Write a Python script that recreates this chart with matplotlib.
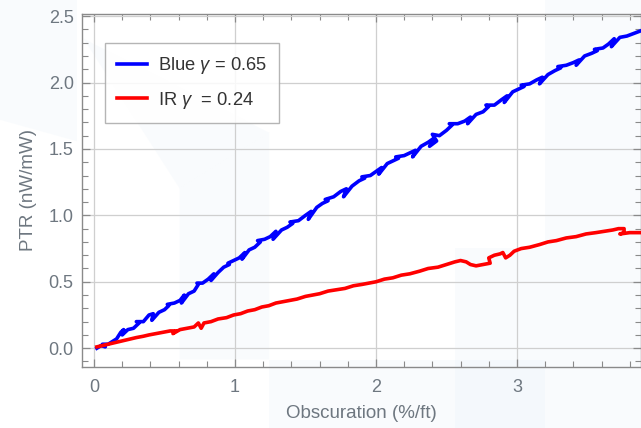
import matplotlib
matplotlib.use("Agg")
import matplotlib.pyplot as plt
import matplotlib.patches as patches

plt.rcParams['font.family'] = ['Liberation Sans', 'DejaVu Sans']
plt.rcParams['mathtext.fontset'] = 'custom'
plt.rcParams['mathtext.rm'] = 'Liberation Sans'
plt.rcParams['mathtext.it'] = 'Liberation Sans:italic'

# datos (PTR vs oscurecimiento)
blue_x = [0.02, 0.05, 0.08, 0.06, 0.10, 0.13, 0.16, 0.19, 0.21, 0.20, 0.24, 0.28, 0.32, 0.30, 0.35,
          0.39, 0.42, 0.41, 0.46, 0.50, 0.53, 0.52, 0.57, 0.61, 0.64, 0.62, 0.67, 0.71, 0.74, 0.73,
          0.77, 0.81, 0.85, 0.83, 0.88, 0.92, 0.96, 0.95, 0.99, 1.03, 1.07, 1.05, 1.10, 1.14, 1.18,
          1.16, 1.21, 1.25, 1.29, 1.27, 1.33, 1.37, 1.41, 1.39, 1.45, 1.50, 1.54, 1.52, 1.58, 1.62,
          1.66, 1.64, 1.70, 1.75, 1.79, 1.77, 1.83, 1.88, 1.92, 1.90, 1.96, 2.00, 2.04, 2.02, 2.08,
          2.12, 2.16, 2.14, 2.20, 2.24, 2.28, 2.26, 2.32, 2.37, 2.41, 2.38, 2.43, 2.40, 2.45, 2.50,
          2.54, 2.52, 2.58, 2.63, 2.67, 2.65, 2.71, 2.76, 2.80, 2.78, 2.84, 2.89, 2.93, 2.91, 2.97,
          3.01, 3.05, 3.03, 3.09, 3.14, 3.18, 3.16, 3.22, 3.27, 3.31, 3.29, 3.35, 3.40, 3.44, 3.42,
          3.48, 3.53, 3.57, 3.55, 3.61, 3.65, 3.69, 3.67, 3.73, 3.78, 3.83, 3.88]
blue_y = [0.00, 0.02, 0.01, 0.03, 0.03, 0.05, 0.07, 0.12, 0.14, 0.10, 0.14, 0.15, 0.19, 0.20, 0.20,
          0.25, 0.26, 0.21, 0.27, 0.29, 0.32, 0.33, 0.34, 0.36, 0.40, 0.34, 0.41, 0.43, 0.48, 0.49,
          0.49, 0.52, 0.56, 0.51, 0.57, 0.61, 0.63, 0.64, 0.66, 0.68, 0.72, 0.67, 0.74, 0.76, 0.80,
          0.81, 0.82, 0.84, 0.88, 0.82, 0.89, 0.91, 0.94, 0.95, 0.96, 1.00, 1.03, 0.97, 1.06, 1.09,
          1.11, 1.12, 1.14, 1.18, 1.20, 1.14, 1.22, 1.26, 1.28, 1.29, 1.30, 1.33, 1.36, 1.31, 1.39,
          1.41, 1.43, 1.44, 1.45, 1.47, 1.49, 1.44, 1.52, 1.55, 1.58, 1.52, 1.56, 1.61, 1.60, 1.64,
          1.68, 1.69, 1.69, 1.71, 1.74, 1.69, 1.76, 1.78, 1.82, 1.83, 1.83, 1.87, 1.90, 1.85, 1.93,
          1.95, 1.97, 1.98, 1.99, 2.02, 2.04, 1.99, 2.06, 2.09, 2.11, 2.12, 2.13, 2.15, 2.17, 2.13,
          2.20, 2.22, 2.24, 2.25, 2.26, 2.29, 2.33, 2.27, 2.34, 2.35, 2.37, 2.39]

red_x = [0.02, 0.06, 0.10, 0.14, 0.18, 0.22, 0.26, 0.30, 0.35, 0.39, 0.44, 0.49, 0.54, 0.58, 0.56,
         0.61, 0.66, 0.71, 0.74, 0.76, 0.78, 0.83, 0.88, 0.94, 0.99, 1.04, 1.09, 1.14, 1.19, 1.24,
         1.29, 1.34, 1.39, 1.44, 1.50, 1.55, 1.60, 1.66, 1.72, 1.78, 1.84, 1.90, 1.95, 2.00, 2.06,
         2.12, 2.18, 2.24, 2.31, 2.37, 2.44, 2.50, 2.56, 2.60, 2.64, 2.67, 2.71, 2.76, 2.81, 2.80,
         2.84, 2.88, 2.90, 2.92, 2.95, 2.98, 3.03, 3.09, 3.16, 3.22, 3.28, 3.35, 3.42, 3.49, 3.56,
         3.62, 3.68, 3.72, 3.76, 3.76, 3.73, 3.80, 3.88]
red_y = [0.01, 0.02, 0.03, 0.04, 0.05, 0.06, 0.07, 0.08, 0.09, 0.10, 0.11, 0.12, 0.13, 0.13, 0.11,
         0.14, 0.15, 0.16, 0.19, 0.15, 0.19, 0.20, 0.22, 0.23, 0.25, 0.26, 0.28, 0.29, 0.31, 0.32,
         0.34, 0.35, 0.36, 0.37, 0.39, 0.40, 0.41, 0.43, 0.44, 0.45, 0.47, 0.48, 0.49, 0.50, 0.52,
         0.53, 0.55, 0.56, 0.58, 0.60, 0.61, 0.63, 0.65, 0.66, 0.65, 0.63, 0.62, 0.63, 0.64, 0.68,
         0.70, 0.71, 0.72, 0.68, 0.70, 0.73, 0.75, 0.76, 0.78, 0.80, 0.81, 0.83, 0.84, 0.86, 0.87,
         0.88, 0.89, 0.90, 0.90, 0.87, 0.86, 0.87, 0.87]

labels = ['Blue $\\gamma$ = 0.65', 'IR $\\gamma$  = 0.24']
x_ticks = [0, 1, 2, 3]
y_ticks = [0.0, 0.5, 1.0, 1.5, 2.0, 2.5]

fig = plt.figure(figsize=(6.41, 4.28), dpi=100)
fig.patch.set_facecolor('white')

# marca de agua de fondo (formas azul claro muy tenues)
fondo = [
    [(0.13, 0.91), (0.42, 0.69), (0.28, 0.56)],
    [(0.28, 0.56), (0.42, 0.69), (0.42, 0.16), (0.28, 0.16)],
    [(0.85, 1.0), (1.0, 1.0), (1.0, 0.0), (0.85, 0.0)],
    [(0.71, 0.42), (0.85, 0.42), (0.85, 0.0), (0.71, 0.0)],
    [(0.42, 0.16), (0.85, 0.16), (0.85, 0.0), (0.42, 0.0)],
    [(0.0, 1.0), (0.12, 1.0), (0.12, 0.67), (0.0, 0.72)],
]
for pts in fondo:
    poly = patches.Polygon(pts, closed=True, transform=fig.transFigure,
                           facecolor='#e6f0f9', edgecolor='none', alpha=0.22, zorder=0)
    fig.add_artist(poly)

ax = fig.add_axes([0.128, 0.143, 0.872, 0.824])
ax.set_facecolor('none')

ax.plot(blue_x, blue_y, color='#0000ff', linewidth=2.6, label=labels[0], zorder=3)
ax.plot(red_x, red_y, color='#ff0000', linewidth=2.6, label=labels[1], zorder=3)

ax.set_xlim(-0.085, 3.88)
ax.set_ylim(-0.14, 2.515)
ax.set_xticks(x_ticks)
ax.set_xticklabels([str(t) for t in x_ticks])
ax.set_yticks(y_ticks)
ax.set_yticklabels(['%.1f' % t for t in y_ticks])
ax.set_xticks([i * 0.2 for i in range(0, 20) if i % 5 != 0], minor=True)
ax.set_yticks([i * 0.1 for i in range(-1, 26) if i % 5 != 0], minor=True)

gris = '#6e7780'
ax.tick_params(which='both', direction='in', top=True, right=True, colors='#8a8a8a',
               labelcolor=gris, labelsize=13)
ax.tick_params(which='major', length=6, width=0.9)
ax.tick_params(which='minor', length=4, width=0.8)
ax.tick_params(axis='x', pad=9)
ax.tick_params(axis='y', pad=6)

ax.grid(True, which='major', color='#cfcfcf', linewidth=0.9)
ax.set_axisbelow(True)
for s in ax.spines.values():
    s.set_color('#8a8a8a')
    s.set_linewidth(1.0)

ax.set_xlabel('Obscuration (%/ft)', fontsize=13.5, color=gris, labelpad=6)
ax.set_ylabel('PTR (nW/mW)', fontsize=13.5, color=gris, labelpad=8)

leg = ax.legend(loc='upper left', bbox_to_anchor=(0.041, 0.918), borderaxespad=0,
                fontsize=13.2, frameon=True, fancybox=False, framealpha=0.85,
                edgecolor='#a8a8a8', handlelength=1.65, handletextpad=0.6,
                labelspacing=0.75, borderpad=0.65)
leg.get_frame().set_linewidth(1.0)
for t in leg.get_texts():
    t.set_color('#333333')

fig.savefig('out.png', dpi=100)
